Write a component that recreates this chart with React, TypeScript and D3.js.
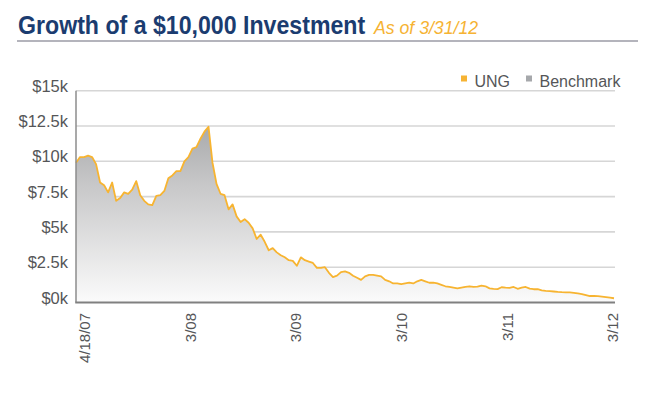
import React, { useEffect, useRef } from "react";
import * as d3 from "d3";

const xLabels = ["4/18/07", "3/08", "3/09", "3/10", "3/11", "3/12"];
const yTicks = [0, 2500, 5000, 7500, 10000, 12500, 15000];
const seriesNames = ["UNG", "Benchmark"];

// growth of $10k in UNG, $k, sampled about every other week from 4/18/07 to 3/31/12
const ung = [
  9.9, 10.3, 10.3, 10.4, 10.3, 9.8, 8.5, 8.3, 7.8, 8.5,
  7.2, 7.4, 7.8, 7.7, 8.0, 8.6, 7.6, 7.2, 6.95, 6.9,
  7.55, 7.6, 7.9, 8.8, 9.0, 9.3, 9.3, 10.0, 10.3, 10.9,
  11.0, 11.6, 12.1, 12.45, 9.9, 8.4, 7.7, 7.6, 6.6, 6.95,
  6.1, 5.7, 5.9, 5.65, 5.25, 4.5, 4.8, 4.3, 3.7, 3.85,
  3.55, 3.35, 3.2, 3.0, 2.95, 2.6, 3.2, 3.0, 2.9, 2.8,
  2.45, 2.45, 2.5, 2.1, 1.8, 1.9, 2.15, 2.2, 2.1, 1.9,
  1.75, 1.6, 1.85, 1.95, 1.95, 1.9, 1.85, 1.6, 1.5, 1.35,
  1.35, 1.3, 1.35, 1.4, 1.35, 1.5, 1.6, 1.5, 1.4, 1.4,
  1.35, 1.25, 1.15, 1.1, 1.05, 1.0, 1.05, 1.1, 1.15, 1.1,
  1.12, 1.2, 1.15, 1.0, 0.97, 0.95, 1.08, 1.05, 1.03, 1.1,
  0.97, 1.05, 1.1, 0.98, 0.94, 0.94, 0.86, 0.83, 0.81, 0.78,
  0.75, 0.73, 0.72, 0.72, 0.68, 0.64, 0.6, 0.53, 0.46, 0.46,
  0.45, 0.42, 0.38, 0.34, 0.3,
];

const FONT = "'Liberation Sans', Arial, Helvetica, sans-serif";

const App = () => {
  const svgRef = useRef<SVGSVGElement>(null);

  useEffect(() => {
    const width = 669;
    const height = 396;
    const margin = { top: 90.7, bottom: 93.5, left: 76, right: 55 };

    const svg = d3.select(svgRef.current);
    svg.selectAll("*").remove();
    svg.attr("width", width).attr("height", height).attr("viewBox", [0, 0, width, height]);

    // scales
    const xScale = d3.scaleLinear()
      .domain([0, ung.length - 1])
      .range([margin.left, width - margin.right]);

    const yScale = d3.scaleLinear()
      .domain([0, 15000])
      .range([height - margin.bottom, margin.top]);

    const xLabelScale = d3.scalePoint<string>()
      .domain(xLabels)
      .range([85, 613]);

    // gradient for the benchmark fill
    const grad = svg.append("defs").append("linearGradient")
      .attr("id", "benchFill")
      .attr("gradientUnits", "userSpaceOnUse")
      .attr("x1", 0).attr("x2", 0)
      .attr("y1", yScale(15000)).attr("y2", yScale(0));
    grad.append("stop").attr("offset", 0).attr("stop-color", "#97989a");
    grad.append("stop").attr("offset", 0.45).attr("stop-color", "#c8c8c9");
    grad.append("stop").attr("offset", 1).attr("stop-color", "#fbfbfb");

    // title (squeezed horizontally to look condensed)
    svg.append("text")
      .attr("transform", "translate(18,34) scale(0.89,1)")
      .attr("font-family", FONT)
      .attr("font-weight", "bold")
      .attr("font-size", 26)
      .attr("fill", "#1b3c70")
      .text("Growth of a $10,000 Investment");

    svg.append("text")
      .attr("transform", "translate(374,34) scale(0.93,1)")
      .attr("font-family", FONT)
      .attr("font-style", "italic")
      .attr("font-size", 19)
      .attr("fill", "#f6b333")
      .text("As of 3/31/12");

    svg.append("line")
      .attr("x1", 17).attr("x2", 638)
      .attr("y1", 41).attr("y2", 41)
      .attr("stroke", "#b4b4bc")
      .attr("stroke-width", 2);

    // gridlines
    svg.append("g")
      .selectAll("line")
      .data(yTicks.filter(d => d > 0))
      .enter()
      .append("line")
      .attr("x1", margin.left)
      .attr("x2", width - margin.right + 1)
      .attr("y1", d => yScale(d))
      .attr("y2", d => yScale(d))
      .attr("stroke", "#d6d6d6")
      .attr("stroke-width", 1.6);

    // benchmark area + UNG line
    const area = d3.area<number>()
      .x((d, i) => xScale(i))
      .y0(yScale(0))
      .y1(d => yScale(d * 1000));

    svg.append("path")
      .datum(ung)
      .attr("d", area)
      .attr("fill", "url(#benchFill)");

    const line = d3.line<number>()
      .x((d, i) => xScale(i))
      .y(d => yScale(d * 1000));

    svg.append("path")
      .datum(ung)
      .attr("d", line)
      .attr("fill", "none")
      .attr("stroke", "#f7b431")
      .attr("stroke-width", 1.8)
      .attr("stroke-linejoin", "round");

    // axis lines
    svg.append("line")
      .attr("x1", margin.left).attr("x2", margin.left)
      .attr("y1", yScale(15000)).attr("y2", yScale(0))
      .attr("stroke", "#8c8c8c")
      .attr("stroke-width", 1.5);

    svg.append("line")
      .attr("x1", margin.left - 0.75).attr("x2", width - margin.right + 1)
      .attr("y1", yScale(0)).attr("y2", yScale(0))
      .attr("stroke", "#808080")
      .attr("stroke-width", 1.8);

    // y labels
    svg.append("g")
      .selectAll("text")
      .data(yTicks)
      .enter()
      .append("text")
      .attr("x", 68)
      .attr("y", d => yScale(d) + 1)
      .attr("text-anchor", "end")
      .attr("font-family", FONT)
      .attr("font-size", 16.5)
      .attr("fill", "#555658")
      .text(d => `$${d / 1000}k`);

    // x labels
    svg.append("g")
      .selectAll("text")
      .data(xLabels)
      .enter()
      .append("text")
      .attr("transform", d => `translate(${xLabelScale(d)},313) rotate(-90)`)
      .attr("dy", "0.35em")
      .attr("text-anchor", "end")
      .attr("font-family", FONT)
      .attr("font-size", 15)
      .attr("fill", "#555658")
      .text(d => d);

    // legend
    const legendColors = ["#f6b333", "#a6a8ab"];
    const legendX = [461, 526];
    const legend = svg.append("g")
      .selectAll("g")
      .data(seriesNames)
      .enter()
      .append("g")
      .attr("transform", (d, i) => `translate(${legendX[i]},0)`);

    legend.append("rect")
      .attr("x", 0).attr("y", 75.5)
      .attr("width", 6).attr("height", 6)
      .attr("fill", (d, i) => legendColors[i]);

    legend.append("text")
      .attr("x", 13.5).attr("y", 86.5)
      .attr("font-family", FONT)
      .attr("font-size", 16)
      .attr("fill", "#555658")
      .text(d => d);
  }, []);

  return (
    <svg
      ref={svgRef}
      style={{ position: "absolute", left: 0, top: 0, background: "#fff" }}
    ></svg>
  );
};

export default App;
